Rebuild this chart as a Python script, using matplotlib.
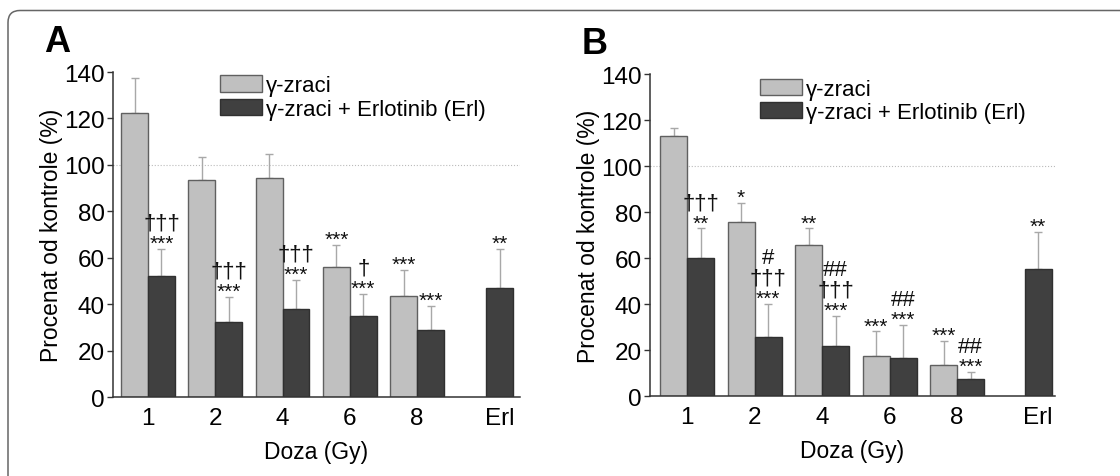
import numpy as np
import matplotlib
matplotlib.use('Agg')
import matplotlib.pyplot as plt
from matplotlib.patches import FancyBboxPatch

plt.rcParams['font.family'] = ['Liberation Sans', 'DejaVu Sans']

# podaci
doses = ['1', '2', '4', '6', '8']
erl_label = 'Erl'
series_names = ['γ-zraci', 'γ-zraci + Erlotinib (Erl)']

# panel A
a_gamma = [122.5, 93.5, 94.5, 56.2, 43.6]
a_gamma_sd = [15.1, 10.0, 10.1, 9.4, 11.0]
a_combo = [52.2, 32.2, 38.0, 35.0, 29.0]
a_combo_sd = [11.6, 10.9, 12.6, 9.5, 10.1]
a_erl = 47.0
a_erl_sd = 16.8
a_gamma_sig = ['', '', '', '***', '***']
a_combo_sig = ['†††\n***', '†††\n***', '†††\n***', '†\n***', '***']
a_erl_sig = '**'

# panel B
b_gamma = [113.2, 75.5, 65.6, 17.2, 13.4]
b_gamma_sd = [3.2, 8.5, 7.3, 10.9, 10.6]
b_combo = [60.2, 25.8, 21.9, 16.7, 7.3]
b_combo_sd = [12.7, 14.4, 13.1, 14.2, 3.2]
b_erl = 55.4
b_erl_sd = 16.0
b_gamma_sig = ['', '*', '**', '***', '***']
b_combo_sig = ['†††\n**', '#\n†††\n***', '##\n†††\n***', '##\n***', '##\n***']
b_erl_sig = '**'

light = '#c0c0c0'
dark = '#404040'
err_col = '#a8a8a8'
bw = 0.4
fs_tick = 17.5
fs_lab = 16.5
fs_leg = 16


def annotate_stack(ax, x, top, text):
    # redovi se slazu odozdo prema gore
    lines = text.split('\n')[::-1]
    for k, line in enumerate(lines):
        size = 15 if '*' in line else 16
        ax.annotate(line, xy=(x, top), xytext=(0, k * 14.5),
                    textcoords='offset points', ha='center', va='baseline',
                    fontsize=size, color='#111111')


def draw_panel(ax, gamma, gamma_sd, combo, combo_sd, erl, erl_sd,
               g_sig, c_sig, e_sig, erl_pos, xlim, leg_anchor, letter):
    x = np.arange(len(doses))
    ax.axhline(100, color='#bbbbbb', lw=0.8, ls=':', zorder=0)
    ax.bar(x - bw / 2, gamma, bw, color=light, edgecolor='#606060', lw=1,
           label=series_names[0], zorder=2)
    ax.bar(np.append(x + bw / 2, erl_pos), combo + [erl], bw, color=dark,
           edgecolor='#303030', lw=1, label=series_names[1], zorder=2)
    ax.errorbar(x - bw / 2, gamma, yerr=[np.zeros(5), gamma_sd], fmt='none',
                ecolor=err_col, elinewidth=1, capsize=3, capthick=1, zorder=1)
    ax.errorbar(np.append(x + bw / 2, erl_pos), combo + [erl],
                yerr=[np.zeros(6), combo_sd + [erl_sd]], fmt='none',
                ecolor=err_col, elinewidth=1, capsize=3, capthick=1, zorder=1)

    for i in range(len(doses)):
        if g_sig[i]:
            annotate_stack(ax, x[i] - bw / 2, gamma[i] + gamma_sd[i], g_sig[i])
        annotate_stack(ax, x[i] + bw / 2, combo[i] + combo_sd[i], c_sig[i])
    annotate_stack(ax, erl_pos, erl + erl_sd, e_sig)

    ax.set_xlim(*xlim)
    ax.set_ylim(0, 140)
    ax.set_yticks(range(0, 141, 20))
    ax.set_xticks(list(x) + [erl_pos])
    ax.set_xticklabels(doses + [erl_label])
    ax.tick_params(axis='x', length=0, pad=7, labelsize=fs_tick)
    ax.tick_params(axis='y', length=4, width=1, pad=2, labelsize=fs_tick,
                   color='#333333')
    for s in ['top', 'right']:
        ax.spines[s].set_visible(False)
    for s in ['left', 'bottom']:
        ax.spines[s].set_color('#333333')
        ax.spines[s].set_linewidth(1.1)
    ax.set_ylabel('Procenat od kontrole (%)', fontsize=fs_lab, labelpad=1)
    ax.set_xlabel('Doza (Gy)', fontsize=fs_lab, labelpad=8)
    ax.legend(loc='upper left', bbox_to_anchor=leg_anchor, frameon=False,
              fontsize=fs_leg, handlelength=1.9, handleheight=0.75,
              handletextpad=0.15, labelspacing=0.1, borderpad=0,
              borderaxespad=0)
    ax.text(-0.17, 1.04, letter, transform=ax.transAxes, fontsize=26,
            fontweight='bold', va='bottom', ha='left')


fig = plt.figure(figsize=(11.2, 4.77), dpi=100)
ax_a = fig.add_axes([0.1009, 0.1656, 0.3634, 0.6813])
ax_b = fig.add_axes([0.5804, 0.1677, 0.3616, 0.6750])

draw_panel(ax_a, a_gamma, a_gamma_sd, a_combo, a_combo_sd, a_erl, a_erl_sd,
           a_gamma_sig, a_combo_sig, a_erl_sig, 5.23, (-0.52, 5.53),
           (0.263, 0.99), 'A')
draw_panel(ax_b, b_gamma, b_gamma_sd, b_combo, b_combo_sd, b_erl, b_erl_sd,
           b_gamma_sig, b_combo_sig, b_erl_sig, 5.2, (-0.55, 5.45),
           (0.272, 0.985), 'B')

# okvir slike sa zaobljenim uglom (desna ivica je van slike)
frame = FancyBboxPatch((0.08, -1.0), 12.0, 5.655,
                       boxstyle='round,pad=0,rounding_size=0.12',
                       transform=fig.dpi_scale_trans, fill=False,
                       edgecolor='#666666', lw=1.1)
fig.patches.append(frame)

fig.savefig('out.png', dpi=100)
